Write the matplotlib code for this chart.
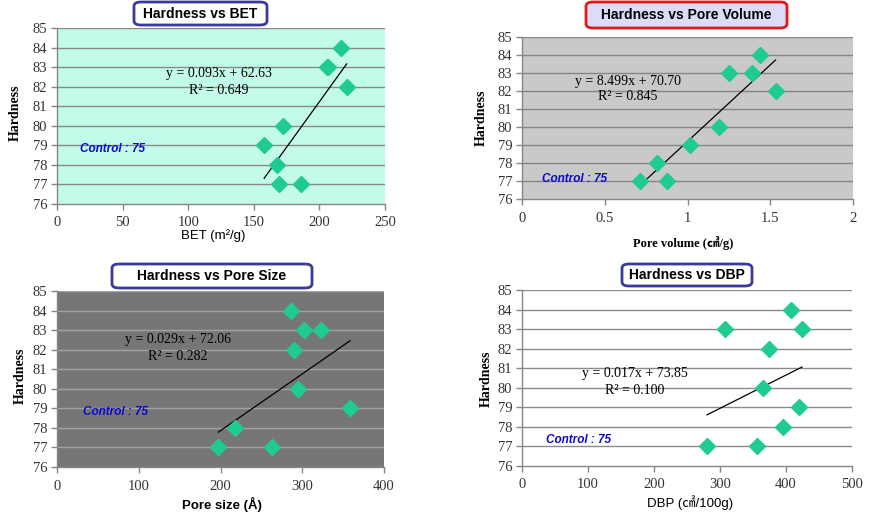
import matplotlib
matplotlib.use("Agg")
import matplotlib.pyplot as plt
from matplotlib.patches import FancyBboxPatch
import numpy as np

W, H = 877, 515

# ---------------- data ----------------
hardness_bet = [84, 83, 83, 82, 80, 79, 78, 77, 77]
bet = [216.5, 205.6, 206.3, 220.8, 172.1, 157.9, 168.0, 169.0, 186.0]

hardness_pv = [84, 83, 83, 82, 80, 79, 78, 77, 77]
pore_volume = [1.441, 1.252, 1.391, 1.532, 1.192, 1.013, 0.814, 0.710, 0.874]

hardness_ps = [84, 83, 83, 82, 80, 79, 78, 77, 77]
pore_size = [285.7, 302.3, 323.5, 290.5, 294.2, 358.5, 218.1, 197.4, 263.3]

hardness_dbp = [84, 83, 83, 82, 80, 79, 78, 77, 77]
dbp = [407.1, 307.1, 424.2, 374.2, 365.7, 420.2, 394.9, 355.6, 280.3]

fit_bet = (0.093, 62.63, "0.649")
fit_pv = (8.499, 70.70, "0.845")
fit_ps = (0.029, 72.06, "0.282")
fit_dbp = (0.017, 73.85, "0.100")

titles = ["Hardness vs BET", "Hardness vs Pore Volume",
          "Hardness vs Pore Size", "Hardness vs DBP"]
xlabels = ["BET (m\u00b2/g)", "Pore volume (\u33a4/g)",
           "Pore size (\u00c5)", "DBP (\u33a0/100g)"]
y_ticks = [76, 77, 78, 79, 80, 81, 82, 83, 84, 85]
x_ticks_bet = [0, 50, 100, 150, 200, 250]
x_ticks_pv = [0, 0.5, 1, 1.5, 2]
x_ticks_ps = [0, 100, 200, 300, 400]
x_ticks_dbp = [0, 100, 200, 300, 400, 500]
control_text = "Control : 75"

# ---------------- layout ----------------
def fx(px):
    return px / W

def fy(py):
    return 1 - py / H

SERIF = ["Liberation Serif", "DejaVu Serif"]
SANS = ["Liberation Sans", "DejaVu Sans"]
CJK_SERIF = ["Liberation Serif", "Noto Sans CJK JP", "DejaVu Sans"]
CJK_SANS = ["Liberation Sans", "Noto Sans CJK JP", "DejaVu Sans"]

fig = plt.figure(figsize=(W / 100, H / 100), dpi=100)
fig.patch.set_facecolor("white")

MARKER_C = "#1fcb91"

panels = [
    dict(x=bet, y=hardness_bet, fit=fit_bet, box=(57, 28, 385, 204),
         bg="#c3fbea", grid="#8a8a8a", xt=x_ticks_bet, xlim=(0, 250),
         title=titles[0], tbox=(134, 2, 267, 25), tface="white", tedge="#3a3a9a",
         eq=(219, 74), r2=(219, 90), ctrl=(113, 149),
         ylab=(15, 113), xlab=(213, 236), xlabel=xlabels[0],
         xlab_font=SANS, xlab_weight="normal", xlab_size=9.5),
    dict(x=pore_volume, y=hardness_pv, fit=fit_pv, box=(522, 37, 853, 199),
         bg="#c9c9c9", grid="#858585", xt=x_ticks_pv, xlim=(0, 2),
         title=titles[1], tbox=(586, 2, 787, 28), tface="#dcdcf8", tedge="#e01a1a",
         eq=(628, 81), r2=(628, 97), ctrl=(574, 179),
         ylab=(481, 118), xlab=(683, 243), xlabel=xlabels[1],
         xlab_font=CJK_SERIF, xlab_weight="bold", xlab_size=9),
    dict(x=pore_size, y=hardness_ps, fit=fit_ps, box=(57, 291, 384, 467),
         bg="#767676", grid="#a3a3a3", xt=x_ticks_ps, xlim=(0, 400),
         title=titles[2], tbox=(112, 264, 312, 288), tface="white", tedge="#3a3a9a",
         eq=(178, 340), r2=(178, 356), ctrl=(116, 412),
         ylab=(20, 376), xlab=(222, 504), xlabel=xlabels[2],
         xlab_font=SANS, xlab_weight="bold", xlab_size=9.5),
    dict(x=dbp, y=hardness_dbp, fit=fit_dbp, box=(522, 290, 852, 466),
         bg="white", grid="#8a8a8a", xt=x_ticks_dbp, xlim=(0, 500),
         title=titles[3], tbox=(622, 264, 752, 286), tface="white", tedge="#3a3a9a",
         eq=(635, 374), r2=(635, 390), ctrl=(579, 440),
         ylab=(486, 379), xlab=(690, 503), xlabel=xlabels[3],
         xlab_font=CJK_SANS, xlab_weight="normal", xlab_size=9.5),
]

for p in panels:
    l, t, r, b = p["box"]
    ax = fig.add_axes([fx(l), fy(b), fx(r) - fx(l), fy(t) - fy(b)])
    ax.set_facecolor(p["bg"])
    ax.set_xlim(*p["xlim"])
    ax.set_ylim(76, 85)
    ax.set_yticks(y_ticks)
    ax.set_xticks(p["xt"])
    ax.set_xticklabels([("%g" % v) for v in p["xt"]])
    for yv in y_ticks[1:]:
        ax.axhline(yv, color=p["grid"], lw=1.0, zorder=1)
    for s in ["top", "right"]:
        ax.spines[s].set_visible(False)
    for s in ["left", "bottom"]:
        ax.spines[s].set_color("#868686")
        ax.spines[s].set_linewidth(1.0)
    ax.tick_params(direction="out", length=4, width=1, color="#868686",
                   labelsize=10.5, labelcolor="#333333", pad=3)
    ax.tick_params(axis="x", pad=5)
    for lab in ax.get_xticklabels() + ax.get_yticklabels():
        lab.set_family(SERIF)

    # trend line from the equation
    m, c, r2 = p["fit"]
    xs = np.array([min(p["x"]), max(p["x"])])
    ax.plot(xs, m * xs + c, color="black", lw=0.9, zorder=2)
    ax.plot(p["x"], p["y"], linestyle="none", marker="D", ms=8,
            color=MARKER_C, markeredgecolor=MARKER_C, zorder=3)

    # equation text
    fig.text(fx(p["eq"][0]), fy(p["eq"][1]), "y = %.3fx + %.2f" % (m, c),
             ha="center", va="center", family=SERIF, fontsize=10, color="black")
    fig.text(fx(p["r2"][0]), fy(p["r2"][1]), "R\u00b2 = " + r2,
             ha="center", va="center", family=SERIF, fontsize=10, color="black")
    # control text
    fig.text(fx(p["ctrl"][0]), fy(p["ctrl"][1]), control_text, ha="center",
             va="center", family=SANS, fontsize=8.5, weight="bold",
             style="italic", color="#0a0acc")
    # axis labels
    fig.text(fx(p["ylab"][0]), fy(p["ylab"][1]), "Hardness", rotation=90,
             ha="center", va="center", family=SERIF, fontsize=10, weight="bold")
    fig.text(fx(p["xlab"][0]), fy(p["xlab"][1]), p["xlabel"], ha="center",
             va="center", family=p["xlab_font"], fontsize=p["xlab_size"],
             weight=p["xlab_weight"])

    # title box
    tl, tt, tr, tb = p["tbox"]
    patch = FancyBboxPatch((fx(tl), fy(tb)), fx(tr) - fx(tl), fy(tt) - fy(tb),
                           boxstyle="round,pad=0,rounding_size=0.008",
                           transform=fig.transFigure, facecolor=p["tface"],
                           edgecolor=p["tedge"], linewidth=2.0, zorder=5)
    fig.add_artist(patch)
    fig.text(fx((tl + tr) / 2), fy((tt + tb) / 2), p["title"], ha="center",
             va="center", family=SANS, fontsize=10, weight="bold",
             color="black", zorder=6)

fig.savefig("out.png", dpi=100, facecolor="white")
